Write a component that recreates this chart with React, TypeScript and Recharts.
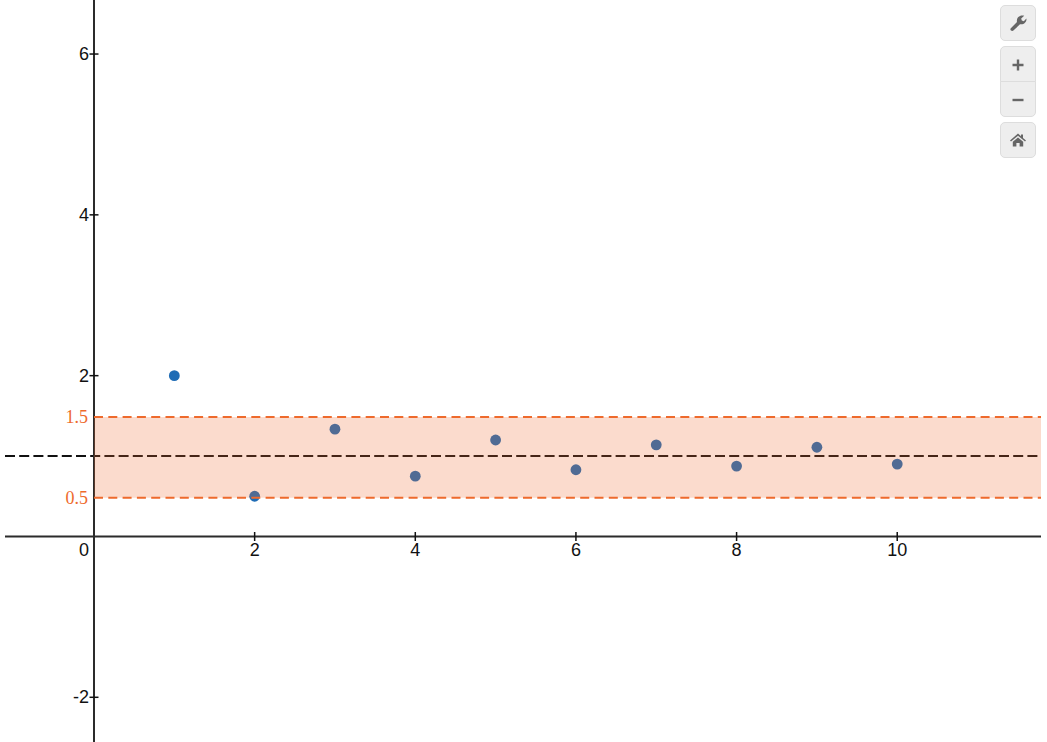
import React from "react";
import { ScatterChart, Scatter, XAxis, YAxis, ReferenceArea, ReferenceLine } from "recharts";

const WIDTH = 1047;
const HEIGHT = 742;
const PLOT = { left: 5, top: 0, width: 1036, height: 742 };

const X_DOMAIN = [-1.108, 11.79];
const Y_DOMAIN = [-2.556, 6.672];
const X_TICKS = [0, 2, 4, 6, 8, 10];
const Y_TICKS = [-2, 2, 4, 6];

const POINT_X = [1, 2, 3, 4, 5, 6, 7, 8, 9, 10];
const POINT_Y = [2.0, 0.5, 1.335, 0.75, 1.2, 0.83, 1.14, 0.875, 1.11, 0.9];

const CENTER_LINE = 1;
const BAND_HIGH = 1.485;
const BAND_LOW = 0.482;
const BAND_HIGH_LABEL = "1.5";
const BAND_LOW_LABEL = "0.5";

const AXIS_COLOR = "#2b2b2b";
const ORANGE = "#ee6a2c";
const BLUE = "#1f6cb5";
const AXIS_FONT = "Arial, 'Liberation Sans', sans-serif";

const points = POINT_X.map((x, i) => ({ x, y: POINT_Y[i] }));

// the axes cross at zero, so the tick parts sit away from the plot edge
const zeroY = PLOT.top + (PLOT.height * Y_DOMAIN[1]) / (Y_DOMAIN[1] - Y_DOMAIN[0]);
const zeroX = PLOT.left + (PLOT.width * -X_DOMAIN[0]) / (X_DOMAIN[1] - X_DOMAIN[0]);

function XTick({ x, payload }: any) {
  const isZero = payload.value === 0;
  return (
    <g>
      {!isZero && <line x1={x} x2={x} y1={zeroY - 4.5} y2={zeroY + 4.5} stroke="#111" strokeWidth={1.5} />}
      <text x={isZero ? x - 10 : x} y={zeroY + 20} textAnchor="middle" fontSize={18} fontFamily={AXIS_FONT} fill="#111">
        {payload.value}
      </text>
    </g>
  );
}

function YTick({ y, payload }: any) {
  return (
    <g>
      <line x1={zeroX - 4.5} x2={zeroX + 4.5} y1={y} y2={y} stroke="#111" strokeWidth={1.5} />
      <text x={zeroX - 5} y={y + 6} textAnchor="end" fontSize={18} fontFamily={AXIS_FONT} fill="#111">
        {payload.value}
      </text>
    </g>
  );
}

function BandLabel({ viewBox, value }: any) {
  return (
    <text
      x={zeroX - 6}
      y={viewBox.y + 6}
      textAnchor="end"
      fontSize={18}
      fontFamily="'Liberation Serif', 'Times New Roman', serif"
      fill={ORANGE}
    >
      {value}
    </text>
  );
}

const toolButton: React.CSSProperties = {
  position: "absolute",
  left: 1000,
  width: 36,
  boxSizing: "border-box",
  background: "#eeeeee",
  border: "1px solid #dddddd",
  display: "flex",
  alignItems: "center",
  justifyContent: "center",
};

function Toolbar() {
  return (
    <>
      <div style={{ ...toolButton, top: 5, height: 36, borderRadius: 5 }}>
        <svg width="18" height="18" viewBox="0 0 18 18">
          <path
            d="M1.6 14.4 L8 8 C7.2 4.6 9.6 1.4 13.2 1.4 C14 1.4 14.6 1.6 15.2 1.8 L12.2 4.6 L12.8 6.6 L14.8 7.2 L17.4 4.4 C18 8.2 14.8 11 11 10.2 L4.4 16.6 C3 17.6 0.6 16 1.6 14.4 Z"
            fill="#666"
          />
        </svg>
      </div>
      <div style={{ ...toolButton, top: 46, height: 36, borderRadius: "5px 5px 0 0", paddingTop: 2 }}>
        <svg width="14" height="14" viewBox="0 0 14 14">
          <path d="M5.8 1.5 H8.2 V5.8 H12.5 V8.2 H8.2 V12.5 H5.8 V8.2 H1.5 V5.8 H5.8 Z" fill="#666" />
        </svg>
      </div>
      <div style={{ ...toolButton, top: 81, height: 36, borderRadius: "0 0 5px 5px", paddingTop: 2 }}>
        <svg width="14" height="14" viewBox="0 0 14 14">
          <path d="M1.5 5.8 H12.5 V8.2 H1.5 Z" fill="#666" />
        </svg>
      </div>
      <div style={{ ...toolButton, top: 122, height: 36, borderRadius: 5 }}>
        <svg width="16" height="14" viewBox="0 0 16 14">
          <path d="M8 0.6 L11 3.2 V1.4 H13 V5 L16 7.6 L15 8.6 L8 2.8 L1 8.6 L0 7.6 Z M2.8 8.8 L8 4.4 L13.2 8.8 V13.6 H9.6 V10 H6.4 V13.6 H2.8 Z" fill="#666" />
        </svg>
      </div>
    </>
  );
}

export default function App() {
  return (
    <div style={{ position: "absolute", left: 0, top: 0, width: WIDTH, height: HEIGHT, overflow: "hidden", background: "#fff" }}>
      <ScatterChart
        width={WIDTH}
        height={HEIGHT}
        margin={{ top: PLOT.top, left: PLOT.left - 1, right: WIDTH - PLOT.left - PLOT.width, bottom: -1 }}
      >
        <XAxis
          type="number"
          dataKey="x"
          domain={X_DOMAIN}
          ticks={X_TICKS}
          height={1}
          axisLine={false}
          tickLine={false}
          allowDataOverflow
          interval={0}
          tick={<XTick />}
        />
        <YAxis
          type="number"
          dataKey="y"
          domain={Y_DOMAIN}
          ticks={Y_TICKS}
          width={1}
          axisLine={false}
          tickLine={false}
          allowDataOverflow
          interval={0}
          tick={<YTick />}
        />
        <Scatter data={points} fill={BLUE} isAnimationActive={false} shape={(p: any) => <circle cx={p.cx} cy={p.cy} r={5.4} fill={BLUE} />} />
        <ReferenceLine y={CENTER_LINE} stroke="#111" strokeWidth={2} strokeDasharray="10 4.2" zIndex={800} />
        <ReferenceLine y={0} stroke={AXIS_COLOR} strokeWidth={2} zIndex={800} />
        <ReferenceLine x={0} stroke={AXIS_COLOR} strokeWidth={2} zIndex={800} />
        <ReferenceArea
          x1={0}
          x2={X_DOMAIN[1]}
          y1={BAND_LOW}
          y2={BAND_HIGH}
          fill={ORANGE}
          fillOpacity={0.24}
          stroke="none"
          zIndex={800}
        />
        <ReferenceLine
          segment={[{ x: 0, y: BAND_HIGH }, { x: X_DOMAIN[1], y: BAND_HIGH }]}
          stroke={ORANGE}
          strokeWidth={2}
          strokeDasharray="9 5.3"
          zIndex={800}
          label={<BandLabel value={BAND_HIGH_LABEL} />}
        />
        <ReferenceLine
          segment={[{ x: 0, y: BAND_LOW }, { x: X_DOMAIN[1], y: BAND_LOW }]}
          stroke={ORANGE}
          strokeWidth={2}
          strokeDasharray="9 5.3"
          zIndex={800}
          label={<BandLabel value={BAND_LOW_LABEL} />}
        />
      </ScatterChart>
      <Toolbar />
    </div>
  );
}
